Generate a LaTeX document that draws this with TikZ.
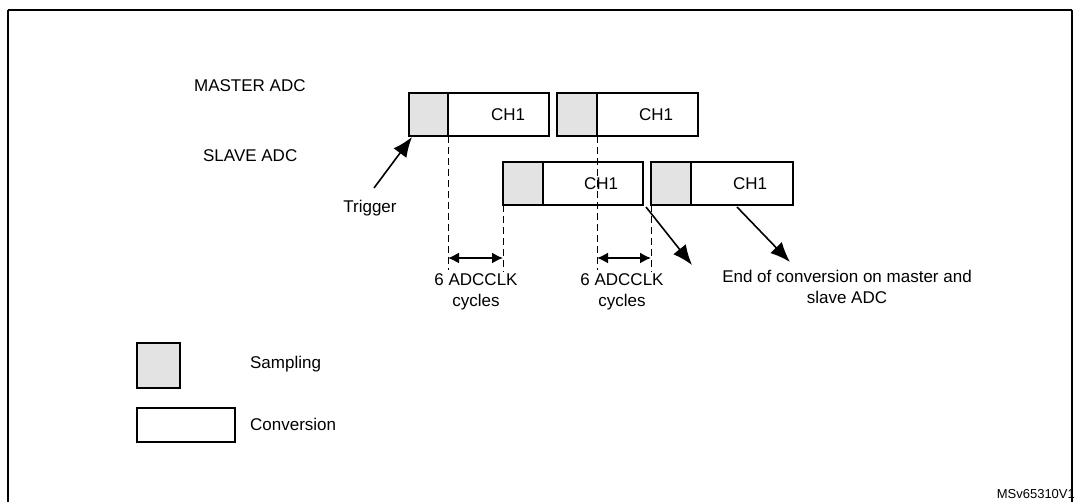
\documentclass[tikz,border=0pt]{standalone}
\usepackage{fontspec}
\setmainfont{Liberation Sans}
\usetikzlibrary{arrows.meta}

\begin{document}
\begin{tikzpicture}[x=1pt,y=-1pt,line width=1.6pt,font=\fontsize{17}{21}\selectfont,
  samp/.style={fill=black!11},
  meas/.style={{Latex[length=11pt,width=11pt]}-{Latex[length=11pt,width=11pt]}},
  point/.style={-{Latex[length=20pt,width=16pt]}}]
\useasboundingbox (0,0) rectangle (1079,502);
\draw (8,10) -- (1072,10);
\draw (8,10) -- (8,502);
\draw (1072,10) -- (1072,502);

\node[anchor=west] (master) at (190,86) {MASTER ADC};
\node[anchor=west] (slave) at (199,156) {SLAVE ADC};

% master conversions
\draw[samp] (409,93) rectangle (448,136);
\draw (448,93) rectangle (549,136);
\node (m1) at (508,115) {CH1};
\draw[samp] (557,93) rectangle (597,136);
\draw (597,93) rectangle (698,136);
\node (m2) at (656,115) {CH1};

% slave conversions
\draw[samp] (503,162) rectangle (543,205);
\draw (543,162) rectangle (643,205);
\node (s1) at (601,184) {CH1};
\draw[samp] (651,162) rectangle (691,205);
\draw (691,162) rectangle (793,205);
\node (s2) at (750,184) {CH1};

% delays
\coordinate (d1) at (448,136); \coordinate (d1b) at (448,270);
\coordinate (d2) at (503,205); \coordinate (d2b) at (503,272);
\coordinate (d3) at (597,136); \coordinate (d3b) at (597,270);
\coordinate (d4) at (651,205); \coordinate (d4b) at (651,272);
\draw[line width=1pt,dash pattern=on 7pt off 4pt] (d1) -- (d1b) (d2) -- (d2b) (d3) -- (d3b) (d4) -- (d4b);
\coordinate (a1) at (448,258); \coordinate (a2) at (503,258);
\coordinate (a3) at (597,258); \coordinate (a4) at (651,258);
\draw[meas] (a1) -- (a2);
\draw[meas] (a3) -- (a4);
\node[align=center] (c1) at (476,292) {6 ADCCLK\\cycles};
\node[align=center] (c2) at (622,292) {6 ADCCLK\\cycles};

% trigger
\node (trig) at (370,208) {Trigger};
\coordinate (t0) at (374,188); \coordinate (t1) at (412,137);
\draw[point] (t0) -- (t1);

% end of conversion
\node[align=center] (eoc) at (847,287) {End of conversion on master and\\slave ADC};
\coordinate (e1) at (646,207); \coordinate (e1b) at (692,265);
\coordinate (e2) at (737,207); \coordinate (e2b) at (790,262);
\draw[point] (e1) -- (e1b);
\draw[point] (e2) -- (e2b);

% legend
\draw[samp] (137,343) rectangle (180,388);
\node[anchor=west] (ls) at (246,364) {Sampling};
\draw (137,408) rectangle (235,442);
\node[anchor=west] (lc) at (246,424) {Conversion};

\node[anchor=east,font=\fontsize{13}{15}\selectfont] (ref) at (1079,494) {MSv65310V1};
\end{tikzpicture}
\end{document}
